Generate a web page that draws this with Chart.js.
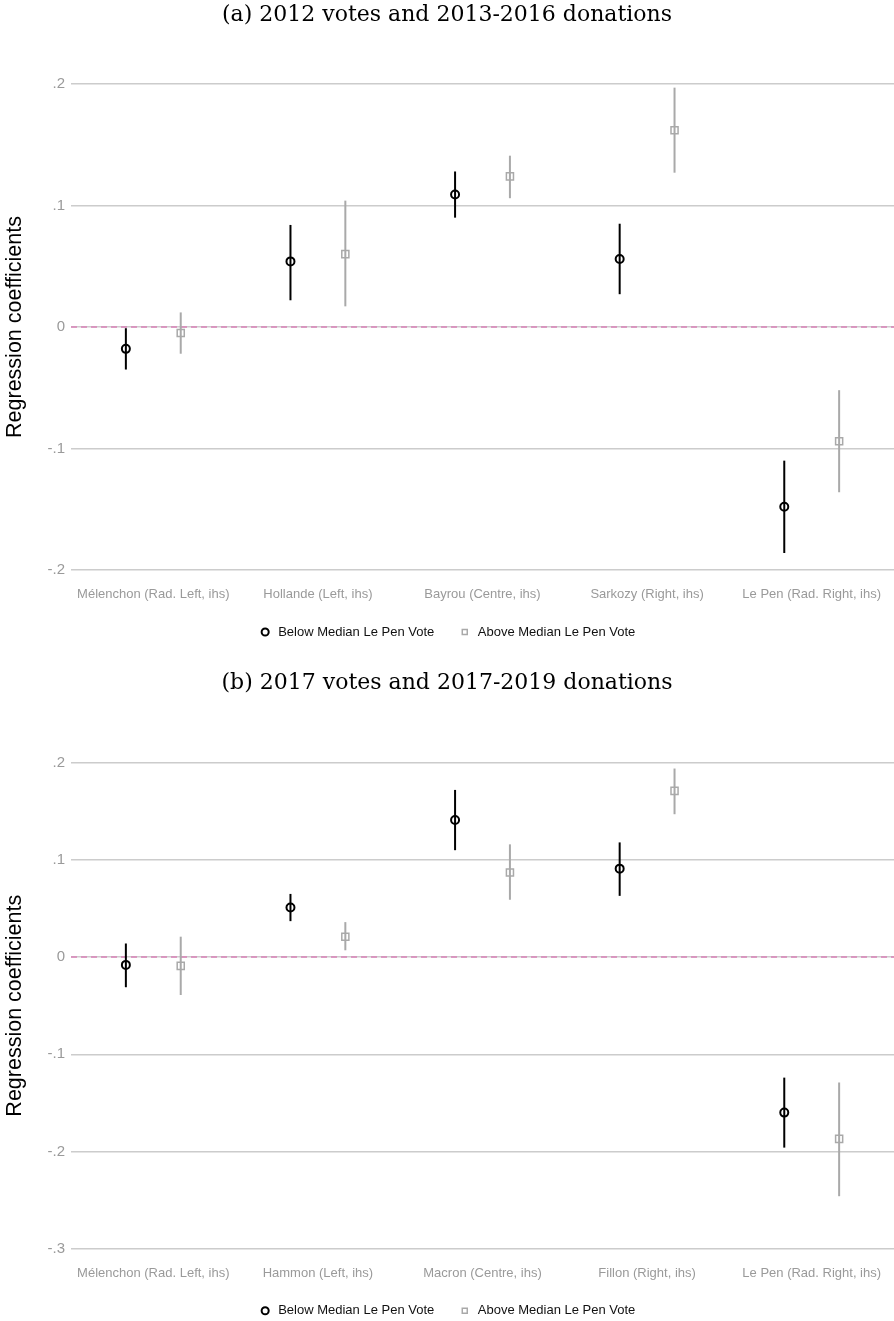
<!DOCTYPE html>
<html>
<head>
<meta charset="utf-8">
<script src="https://cdn.jsdelivr.net/npm/chart.js@4.4.1/dist/chart.umd.min.js"></script>
<style>
  html, body {margin: 0; padding: 0; background: #fff; overflow: hidden;}
  body {width: 894px; height: 1321px; position: relative;}
  .panel {position: absolute; left: 0;}
</style>
</head>
<body>
<div class="panel" style="top:0"><canvas id="chartA" width="894" height="660"></canvas></div>
<div class="panel" style="top:664px"><canvas id="chartB" width="894" height="664"></canvas></div>
<script>
// panel (a): 2012 votes, 2013-2016 donations
const categoriesA = ['Mélenchon (Rad. Left, ihs)', 'Hollande (Left, ihs)', 'Bayrou (Centre, ihs)', 'Sarkozy (Right, ihs)', 'Le Pen (Rad. Right, ihs)'];
const belowA = [-0.018, 0.054, 0.109, 0.056, -0.148];
const belowLoA = [-0.035, 0.022, 0.090, 0.027, -0.186];
const belowHiA = [-0.001, 0.084, 0.128, 0.085, -0.110];
const aboveA = [-0.005, 0.060, 0.124, 0.162, -0.094];
const aboveLoA = [-0.022, 0.017, 0.106, 0.127, -0.136];
const aboveHiA = [0.012, 0.104, 0.141, 0.197, -0.052];
const yTicksA = [-0.2, -0.1, 0, 0.1, 0.2];

// panel (b): 2017 votes, 2017-2019 donations
const categoriesB = ['Mélenchon (Rad. Left, ihs)', 'Hammon (Left, ihs)', 'Macron (Centre, ihs)', 'Fillon (Right, ihs)', 'Le Pen (Rad. Right, ihs)'];
const belowB = [-0.008, 0.051, 0.141, 0.091, -0.160];
const belowLoB = [-0.031, 0.037, 0.110, 0.063, -0.196];
const belowHiB = [0.014, 0.065, 0.172, 0.118, -0.124];
const aboveB = [-0.009, 0.021, 0.087, 0.171, -0.187];
const aboveLoB = [-0.039, 0.007, 0.059, 0.147, -0.246];
const aboveHiB = [0.021, 0.036, 0.116, 0.194, -0.129];
const yTicksB = [-0.3, -0.2, -0.1, 0, 0.1, 0.2];

const seriesNames = ['Below Median Le Pen Vote', 'Above Median Le Pen Vote'];

const sans = '"Liberation Sans", Arial, sans-serif';

const fmtTick = v => {
  const r = Math.round(v * 10) / 10;
  if (r === 0) return '0';
  return r.toFixed(1).replace('0.', '.');
};

// dashed reference line at zero
const zeroLine = {
  id: 'zeroLine',
  beforeDatasetsDraw(chart) {
    const {ctx, chartArea, scales: {y}} = chart;
    const py = y.getPixelForValue(0);
    ctx.save();
    ctx.strokeStyle = '#d983b8';
    ctx.lineWidth = 1.5;
    ctx.setLineDash([6, 4]);
    ctx.beginPath();
    ctx.moveTo(chartArea.left, py);
    ctx.lineTo(chartArea.right, py);
    ctx.stroke();
    ctx.restore();
  }
};

// vertical confidence intervals
const errorBars = {
  id: 'errorBars',
  beforeDatasetsDraw(chart) {
    const {ctx, scales: {x, y}} = chart;
    chart.data.datasets.forEach(ds => {
      ctx.save();
      ctx.strokeStyle = ds.borderColor;
      ctx.lineWidth = 2;
      ds.data.forEach((p, i) => {
        const px = x.getPixelForValue(p.x);
        ctx.beginPath();
        ctx.moveTo(px, y.getPixelForValue(ds.lo[i]));
        ctx.lineTo(px, y.getPixelForValue(ds.hi[i]));
        ctx.stroke();
      });
      ctx.restore();
    });
  }
};

function makeChart(id, title, titlePad, cats, below, belowLo, belowHi, above, aboveLo, aboveHi, yTicks, tickPad, bottomPad) {
  return new Chart(document.getElementById(id), {
    type: 'scatter',
    data: {
      datasets: [
        {
          label: seriesNames[0],
          data: below.map((v, i) => ({x: i + 1 - 1 / 6, y: v})),
          lo: belowLo, hi: belowHi,
          borderColor: '#000',
          backgroundColor: 'rgba(255,255,255,0)',
          pointStyle: 'circle', pointRadius: 4, pointBorderWidth: 2
        },
        {
          label: seriesNames[1],
          data: above.map((v, i) => ({x: i + 1 + 1 / 6, y: v})),
          lo: aboveLo, hi: aboveHi,
          borderColor: '#a9a9a9',
          backgroundColor: 'rgba(255,255,255,0)',
          pointStyle: 'rect', pointRadius: 5, pointBorderWidth: 1.5
        }
      ]
    },
    options: {
      responsive: false,
      animation: false,
      events: [],
      layout: {autoPadding: false, padding: {left: 0, right: 0, top: 0, bottom: bottomPad}},
      scales: {
        x: {
          type: 'linear', min: 0.5, max: 5.5,
          afterBuildTicks: s => { s.ticks = cats.map((c, i) => ({value: i + 1})); },
          afterFit: s => { s.height = 31.5; s.paddingLeft = 0; s.paddingRight = 0; },
          grid: {display: false, drawTicks: false},
          border: {display: false},
          ticks: {
            callback: v => cats[Math.round(v) - 1],
            color: '#9a9a9a', padding: tickPad, maxRotation: 0, autoSkip: false,
            font: {family: sans, size: 13}
          }
        },
        y: {
          min: yTicks[0], max: yTicks[yTicks.length - 1],
          afterBuildTicks: s => { s.ticks = yTicks.map(v => ({value: v})); },
          afterFit: s => { s.width = 71; },
          grid: {color: '#cccccc', lineWidth: 1.5, drawTicks: false},
          border: {display: false},
          ticks: {
            callback: v => fmtTick(v),
            color: '#9a9a9a', padding: 6,
            font: {family: sans, size: 15}
          },
          title: {
            display: true, text: 'Regression coefficients', color: '#000',
            padding: {top: 2, bottom: 2},
            font: {family: sans, size: 21.5}
          }
        }
      },
      plugins: {
        title: {
          display: true, text: title, color: '#000',
          padding: titlePad,
          font: {family: '"DejaVu Serif", serif', size: 22, weight: 'normal'}
        },
        legend: {
          position: 'bottom',
          labels: {
            usePointStyle: true, boxWidth: 13, boxHeight: 5, padding: 24, color: '#111',
            font: {family: sans, size: 13}
          }
        },
        tooltip: {enabled: false}
      }
    },
    plugins: [zeroLine, errorBars]
  });
}

makeChart('chartA', '(a) 2012 votes and 2013-2016 donations', {top: 2, bottom: 55.6},
  categoriesA, belowA, belowLoA, belowHiA, aboveA, aboveLoA, aboveHiA, yTicksA, 16.5, 11.5);
makeChart('chartB', '(b) 2017 votes and 2017-2019 donations', {top: 6, bottom: 66.3},
  categoriesB, belowB, belowLoB, belowHiB, aboveB, aboveLoB, aboveHiB, yTicksB, 16.5, 0.8);
</script>
</body>
</html>
